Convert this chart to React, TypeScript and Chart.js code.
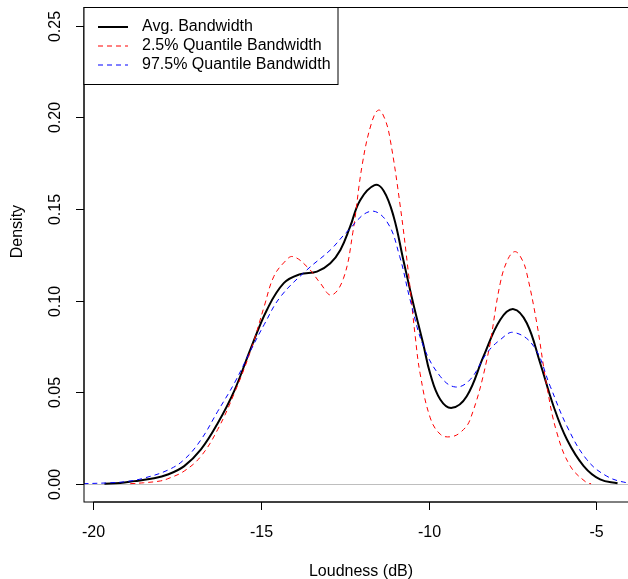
import React, { useEffect, useRef } from "react";
import { Chart, registerables } from "chart.js";

Chart.register(...registerables);

// ---- data ----
const avgX = [-19.67, -19.2, -18.78, -18.28, -17.78, -17.29, -16.79, -16.29, -15.79, -15.3, -14.82, -14.32, -13.83, -13.33, -12.93, -12.63, -12.34, -12.04, -11.61, -11.34, -11.04, -10.75, -10.46, -10.16, -9.95, -9.65, -9.3, -8.86, -8.36, -7.86, -7.46, -7.07, -6.67, -6.27, -5.87, -5.37, -4.88, -4.36];
const avgY = [0.0, 0.0004, 0.0014, 0.0027, 0.005, 0.0096, 0.0187, 0.033, 0.051, 0.074, 0.095, 0.1095, 0.1144, 0.1158, 0.1204, 0.1276, 0.1403, 0.1548, 0.163, 0.16, 0.1458, 0.122, 0.0987, 0.0764, 0.06, 0.046, 0.0414, 0.0477, 0.0695, 0.0895, 0.0953, 0.0877, 0.0659, 0.0423, 0.0241, 0.0096, 0.0023, 0.0002];

const lowX = [-18.9, -18.5, -18.0, -17.78, -17.29, -16.79, -16.29, -15.79, -15.3, -14.9, -14.62, -14.3, -14.05, -13.6, -13.23, -12.9, -12.54, -12.26, -11.98, -11.7, -11.49, -11.3, -11.14, -10.84, -10.6, -10.4, -10.25, -9.95, -9.65, -9.35, -9.05, -8.76, -8.26, -7.86, -7.62, -7.41, -7.2, -7.07, -6.77, -6.47, -6.17, -5.77, -5.28, -5.15];
const lowY = [0.0, 0.0005, 0.0015, 0.0027, 0.0069, 0.015, 0.0296, 0.0496, 0.073, 0.097, 0.113, 0.121, 0.124, 0.118, 0.1095, 0.103, 0.112, 0.137, 0.174, 0.197, 0.204, 0.199, 0.1875, 0.151, 0.115, 0.081, 0.06, 0.036, 0.027, 0.0256, 0.028, 0.035, 0.0677, 0.1095, 0.123, 0.1267, 0.122, 0.115, 0.0877, 0.0532, 0.0278, 0.0096, 0.0005, 0.0];

const highX = [-20.3, -19.5, -19.0, -18.5, -17.78, -17.29, -16.79, -16.29, -15.79, -15.3, -14.9, -14.42, -13.63, -12.93, -12.43, -11.74, -11.24, -10.86, -10.55, -10.15, -9.65, -9.2, -8.76, -8.26, -7.86, -7.46, -6.86, -6.37, -5.87, -5.28, -4.68, -4.08, -3.6];
const highY = [0.0, 0.0005, 0.0012, 0.003, 0.0074, 0.0132, 0.024, 0.0395, 0.055, 0.073, 0.087, 0.102, 0.1167, 0.1276, 0.1376, 0.1487, 0.143, 0.124, 0.1005, 0.075, 0.0586, 0.0528, 0.0568, 0.0713, 0.0786, 0.0826, 0.075, 0.0532, 0.0314, 0.0132, 0.0041, 0.0005, 0.0];

const seriesLabels = ["Avg. Bandwidth", "2.5% Quantile Bandwidth", "97.5% Quantile Bandwidth"];
const xTicks = [-20, -15, -10, -5];
const yTicks = [0, 0.05, 0.1, 0.15, 0.2, 0.25];
const yTickLabels = ["0.00", "0.05", "0.10", "0.15", "0.20", "0.25"];
const xTitle = "Loudness (dB)";
const yTitle = "Density";

const FONT = '16px "Liberation Sans", Arial, sans-serif';

const rPlot = {
  id: "rplot",
  beforeDatasetsDraw(chart: any) {
    const { ctx, chartArea: a, scales } = chart;
    const y0 = Math.round(scales.y.getPixelForValue(0)) + 0.5;
    ctx.save();
    ctx.strokeStyle = "#bebebe";
    ctx.lineWidth = 1;
    ctx.beginPath();
    ctx.moveTo(a.left, y0);
    ctx.lineTo(a.right, y0);
    ctx.stroke();
    ctx.restore();
  },
  afterDraw(chart: any) {
    const { ctx, chartArea: a, scales } = chart;
    const xs = scales.x;
    const ys = scales.y;
    ctx.save();
    ctx.strokeStyle = "#000";
    ctx.fillStyle = "#000";
    ctx.lineWidth = 1;
    // box
    ctx.strokeRect(a.left, a.top, a.right - a.left, a.bottom - a.top);

    // x axis
    const xb = a.bottom;
    ctx.beginPath();
    ctx.moveTo(xs.getPixelForValue(xTicks[0]), xb);
    ctx.lineTo(xs.getPixelForValue(xTicks[xTicks.length - 1]), xb);
    ctx.stroke();
    ctx.font = FONT;
    ctx.textAlign = "center";
    ctx.textBaseline = "middle";
    xTicks.forEach((v) => {
      const px = Math.round(xs.getPixelForValue(v)) + 0.5;
      ctx.beginPath();
      ctx.moveTo(px, xb);
      ctx.lineTo(px, xb + 8);
      ctx.stroke();
      ctx.fillText(String(v), px, xb + 31);
    });
    ctx.fillText(xTitle, (a.left + a.right) / 2, xb + 70);

    // y axis
    const yl = a.left;
    ctx.beginPath();
    ctx.moveTo(yl, ys.getPixelForValue(yTicks[0]));
    ctx.lineTo(yl, ys.getPixelForValue(yTicks[yTicks.length - 1]));
    ctx.stroke();
    yTicks.forEach((v, i) => {
      const py = Math.round(ys.getPixelForValue(v)) + 0.5;
      ctx.beginPath();
      ctx.moveTo(yl - 8, py);
      ctx.lineTo(yl, py);
      ctx.stroke();
      ctx.save();
      ctx.translate(yl - 28, py);
      ctx.rotate(-Math.PI / 2);
      ctx.fillText(yTickLabels[i], 0, 0);
      ctx.restore();
    });
    ctx.save();
    ctx.translate(18, (ys.getPixelForValue(yTicks[0]) + a.top) / 2 - 14);
    ctx.rotate(-Math.PI / 2);
    ctx.fillText(yTitle, 0, 0);
    ctx.restore();

    // legend
    const lx = a.left, ly = a.top, lw = 254, lh = 77;
    ctx.fillStyle = "#fff";
    ctx.fillRect(lx, ly, lw, lh);
    ctx.strokeStyle = "#000";
    ctx.lineWidth = 1;
    ctx.strokeRect(lx, ly, lw, lh);
    ctx.textAlign = "left";
    ctx.textBaseline = "middle";
    chart.data.datasets.forEach((ds: any, i: number) => {
      const rowY = ly + 19.5 + i * 19;
      ctx.strokeStyle = ds.borderColor;
      ctx.lineWidth = ds.borderWidth;
      ctx.setLineDash(ds.borderDash || []);
      ctx.beginPath();
      ctx.moveTo(lx + 14, rowY);
      ctx.lineTo(lx + 44, rowY);
      ctx.stroke();
      ctx.setLineDash([]);
      ctx.fillStyle = "#000";
      ctx.fillText(ds.label, lx + 58, rowY);
    });
    ctx.restore();
  },
};

function pts(xv: number[], yv: number[]) {
  return xv.map((x, i) => ({ x, y: yv[i] }));
}

export default function App() {
  const ref = useRef<HTMLCanvasElement | null>(null);
  useEffect(() => {
    if (!ref.current) return;
    const common = { pointRadius: 0, tension: 0.4, cubicInterpolationMode: "default" };
    const chart = new Chart(ref.current, {
      type: "line",
      data: {
        datasets: [
          {
            label: seriesLabels[0],
            data: pts(avgX, avgY),
            borderColor: "#000000",
            borderWidth: 2,
            order: 2,
            ...common,
          },
          {
            label: seriesLabels[1],
            data: pts(lowX, lowY),
            borderColor: "#ff0000",
            borderWidth: 1,
            borderDash: [5, 4],
            order: 1,
            ...common,
          },
          {
            label: seriesLabels[2],
            data: pts(highX, highY),
            borderColor: "#0000ff",
            borderWidth: 1,
            borderDash: [5, 4],
            order: 0,
            ...common,
          },
        ] as any,
      },
      options: {
        responsive: false,
        maintainAspectRatio: false,
        animation: false,
        devicePixelRatio: 1,
        layout: { padding: { left: 0, top: 7.5, right: 2, bottom: 0 } },
        plugins: { legend: { display: false }, tooltip: { enabled: false } },
        scales: {
          x: {
            type: "linear",
            min: -20.28,
            max: -3.75,
            grid: { display: false },
            border: { display: false },
            ticks: { display: false },
            afterFit: (s: any) => {
              s.height = 77;
            },
          },
          y: {
            type: "linear",
            min: -0.01,
            max: 0.26,
            grid: { display: false },
            border: { display: false },
            ticks: { display: false },
            afterFit: (s: any) => {
              s.width = 84;
            },
          },
        },
      } as any,
      plugins: [rPlot],
    });
    return () => chart.destroy();
  }, []);
  return (
    <div
      style={{
        position: "fixed",
        left: 0,
        top: 0,
        width: 628,
        height: 579,
        overflow: "hidden",
        background: "#fff",
      }}
    >
      <canvas ref={ref} width={640} height={579} style={{ display: "block" }} />
    </div>
  );
}
